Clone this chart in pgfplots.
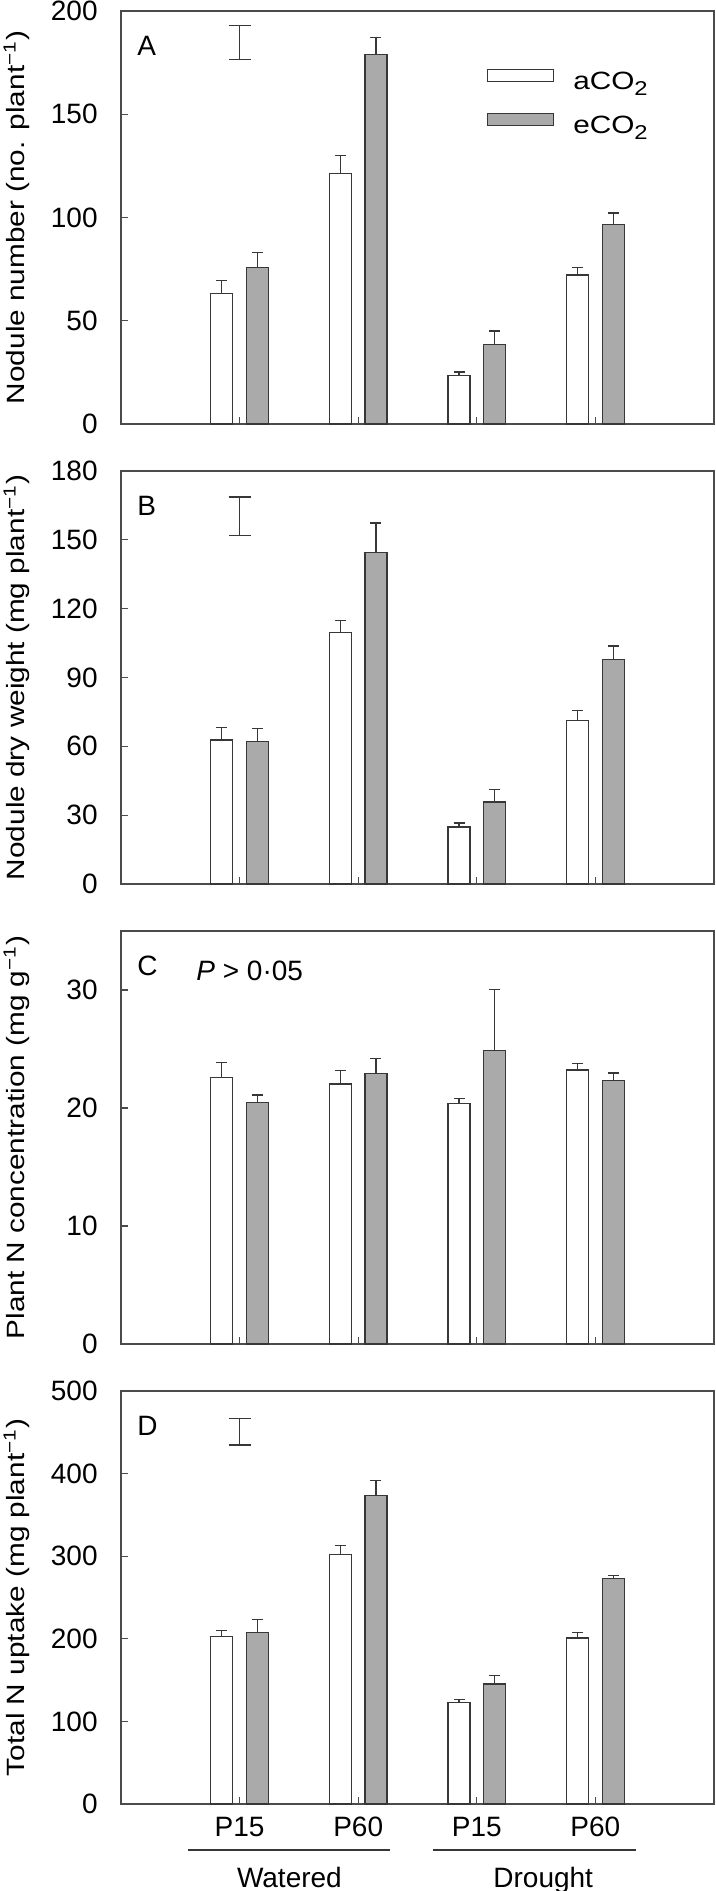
\documentclass[border=0pt]{standalone}
\usepackage{fontspec}
\setmainfont{Liberation Sans}
\newfontfamily\widefont[FakeStretch=1.19]{Liberation Sans}
\usepackage{pgfplots}
\pgfplotsset{compat=1.18}
\usepackage{pgfplotstable}

\definecolor{bargray}{RGB}{170,170,170}
\definecolor{linegray}{RGB}{55,55,55}
\definecolor{framegray}{RGB}{75,75,75}

\pgfplotstableread{
x a ae e ee
1 63.1 6.3 75.8 7.1
2 121.3 8.8 179.1 8.2
3 23.5 1.7 38.4 6.6
4 72.1 3.7 96.5 5.7
}\dataA
\pgfplotstableread{
x a ae e ee
1 62.7 5.4 62.0 5.8
2 109.5 5.3 144.5 12.8
3 24.8 1.8 35.8 5.3
4 71.4 4.2 97.9 5.8
}\dataB
\pgfplotstableread{
x a ae e ee
1 22.56 1.33 20.45 0.65
2 22.03 1.12 22.90 1.27
3 20.39 0.40 24.85 5.21
4 23.21 0.54 22.34 0.62
}\dataC
\pgfplotstableread{
x a ae e ee
1 203.0 6.6 207.6 15.4
2 302.0 10.8 373.5 18.3
3 122.7 3.8 145.2 10.8
4 200.9 7.1 272.9 4.1
}\dataD

\newcommand{\tickfont}{\fontsize{14}{14}\selectfont}
\newcommand{\labfont}{\widefont\fontsize{12.5}{12.5}\selectfont}
\newcommand{\supm}{\textsuperscript{−1}}
\newcommand{\subtwo}{\raisebox{-0.45ex}{\fontsize{10}{10}\selectfont 2}}

\pgfplotsset{
  panel/.style={
    scale only axis, width=296.5pt, height=206.5pt,
    xmin=0, xmax=5, ymin=0,
    xtick={1,2,3,4}, xticklabels={},
    tick align=inside, major tick length=3.5pt,
    xtick pos=bottom, ytick pos=left,
    axis line style={framegray, line width=0.8pt},
    every tick/.style={framegray, line width=0.6pt},
    tick label style={font=\tickfont},
    /pgf/number format/assume math mode=true,
    yticklabel style={inner sep=0pt, xshift=-11.5pt},
    ylabel style={font=\labfont, at={(axis description cs:-0.176,0.5)}, anchor=center},
    clip=false,
  },
  aplot/.style={ybar, bar width=0.185, bar shift=0, fill=white, draw=linegray, line width=0.65pt,
    error bars/.cd, y dir=plus, y explicit,
    error bar style={draw=linegray, line width=0.6pt},
    error mark options={rotate=90, mark size=2.75pt, draw=linegray, line width=0.6pt}},
  eplot/.style={ybar, bar width=0.185, bar shift=0, fill=bargray, draw=linegray, line width=0.65pt,
    error bars/.cd, y dir=plus, y explicit,
    error bar style={draw=linegray, line width=0.6pt},
    error mark options={rotate=90, mark size=2.75pt, draw=linegray, line width=0.6pt}},
  lsd/.style={draw=none, mark=none,
    error bars/.cd, y dir=both, y explicit,
    error bar style={draw=linegray, line width=0.6pt},
    error mark options={rotate=90, mark size=5.5pt, draw=linegray, line width=0.6pt}},
}

\begin{document}
\begin{tikzpicture}
\useasboundingbox (-60.5pt,5.5pt) rectangle (297.5pt,-940pt);

% Panel A
\begin{axis}[panel, at={(0pt,0pt)}, anchor=north west,
  ymax=200, ytick={0,50,100,150,200},
  ylabel={Nodule number (no. plant\supm)},
  legend style={at={(rel axis cs:0,1)}, anchor=north west, xshift=183pt, yshift=-29pt,
    draw=none, fill=none, inner sep=0pt, outer sep=0pt, row sep=10pt,
    font=\widefont\fontsize{12.5}{12.5}\selectfont,
    nodes={inner sep=0pt},
    /tikz/every odd column/.append style={column sep=9.5pt}},
  legend cell align=left,
  legend image code/.code={\draw[#1] (0pt,0.5pt) rectangle (33pt,6.5pt);},
]
\addplot[aplot] table[x expr=\thisrow{x}-0.15, y=a, y error=ae] {\dataA};
\addlegendentry{aCO\subtwo}
\addplot[eplot] table[x expr=\thisrow{x}+0.15, y=e, y error=ee] {\dataA};
\addlegendentry{eCO\subtwo}
\addplot[forget plot, lsd] coordinates {(1,184.8) +- (0,8.3)};
\node[anchor=base west, inner sep=0pt, font=\tickfont] at ([xshift=8pt,yshift=-22pt]rel axis cs:0,1) {A};
\end{axis}

% Panel B
\begin{axis}[panel, at={(0pt,-230pt)}, anchor=north west,
  ymax=180, ytick={0,30,60,90,120,150,180},
  ylabel={Nodule dry weight (mg plant\supm)},
]
\addplot[aplot] table[x expr=\thisrow{x}-0.15, y=a, y error=ae] {\dataB};
\addplot[eplot] table[x expr=\thisrow{x}+0.15, y=e, y error=ee] {\dataB};
\addplot[lsd] coordinates {(1,160.3) +- (0,8.4)};
\node[anchor=base west, inner sep=0pt, font=\tickfont] at ([xshift=8pt,yshift=-22pt]rel axis cs:0,1) {B};
\end{axis}

% Panel C
\begin{axis}[panel, at={(0pt,-460pt)}, anchor=north west,
  ymax=35, ytick={0,10,20,30},
  ylabel={Plant N concentration (mg g\supm)},
]
\addplot[aplot] table[x expr=\thisrow{x}-0.15, y=a, y error=ae] {\dataC};
\addplot[eplot] table[x expr=\thisrow{x}+0.15, y=e, y error=ee] {\dataC};
\node[anchor=base west, inner sep=0pt, font=\tickfont] at ([xshift=8pt,yshift=-22pt]rel axis cs:0,1) {C};
\node[anchor=base west, inner sep=0pt, font=\tickfont] at ([xshift=37.5pt,yshift=-24.5pt]rel axis cs:0,1) {\textit{P} > 0·05};
\end{axis}

% Panel D
\begin{axis}[panel, at={(0pt,-690pt)}, anchor=north west,
  ymax=500, ytick={0,100,200,300,400,500},
  ylabel={Total N uptake (mg plant\supm)},
  xticklabels={P15,P60,P15,P60},
  xticklabel style={anchor=north, inner sep=0pt, yshift=-6.5pt},
]
\addplot[aplot] table[x expr=\thisrow{x}-0.15, y=a, y error=ae] {\dataD};
\addplot[eplot] table[x expr=\thisrow{x}+0.15, y=e, y error=ee] {\dataD};
\addplot[lsd] coordinates {(1,450.5) +- (0,15.8)};
\node[anchor=base west, inner sep=0pt, font=\tickfont] at ([xshift=8pt,yshift=-22pt]rel axis cs:0,1) {D};
\draw[linegray, line width=0.7pt] ([yshift=-23pt]axis cs:0.565,0) -- ([yshift=-23pt]axis cs:2.267,0);
\draw[linegray, line width=0.7pt] ([yshift=-23pt]axis cs:2.63,0) -- ([yshift=-23pt]axis cs:4.34,0);
\node[anchor=base, inner sep=0pt, font=\tickfont] at ([yshift=-41.5pt]axis cs:1.42,0) {Watered};
\node[anchor=base, inner sep=0pt, font=\tickfont] at ([yshift=-41.5pt]axis cs:3.56,0) {Drought};
\end{axis}
\end{tikzpicture}
\end{document}
